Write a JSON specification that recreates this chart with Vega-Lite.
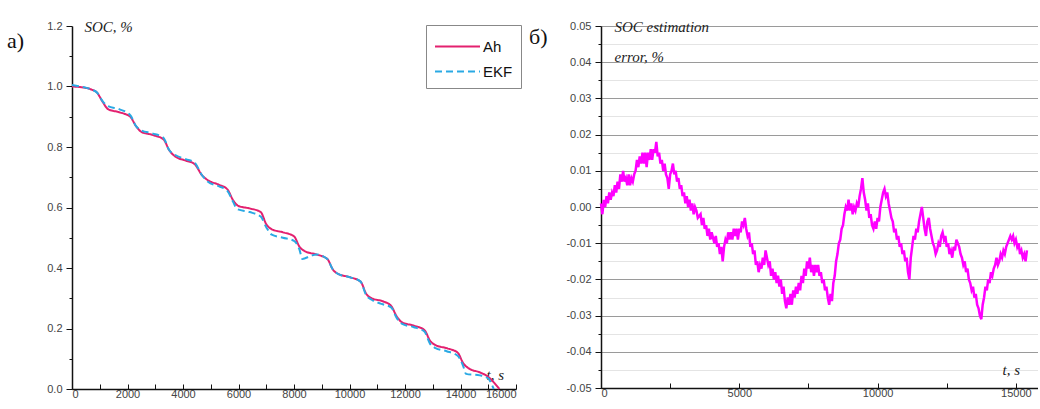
{
  "$schema": "https://vega.github.io/schema/vega-lite/v6.json",
  "background": "white",
  "padding": {"left": 7, "top": 19, "right": 0, "bottom": 0},
  "spacing": 85,
  "bounds": "flush",
  "config": {
    "view": {"stroke": null},
    "locale": {"number": {"decimal": ".", "thousands": "", "grouping": [3], "currency": ["", ""], "minus": "-"}},
    "axis": {
      "labelFont": "Liberation Sans",
      "labelFontSize": 11,
      "labelColor": "#444",
      "domainColor": "#111",
      "domainWidth": 1.5,
      "tickColor": "#111",
      "tickWidth": 1,
      "titleFont": "Liberation Serif",
      "titleFontStyle": "italic",
      "titleFontWeight": "normal",
      "titleFontSize": 15,
      "titleColor": "#222",
      "titleAngle": 0,
      "titleAlign": "left",
      "titleBaseline": "middle"
    },
    "title": {
      "anchor": "start",
      "frame": "group",
      "font": "Liberation Serif",
      "fontSize": 22,
      "fontWeight": "normal",
      "color": "#111",
      "baseline": "middle",
      "offset": 0
    }
  },
  "datasets": {
    "soc": [
      {"t": 0, "soc": 1.0, "method": "Ah"},
      {"t": 300, "soc": 0.998, "method": "Ah"},
      {"t": 700, "soc": 0.99, "method": "Ah"},
      {"t": 900, "soc": 0.98, "method": "Ah"},
      {"t": 1100, "soc": 0.95, "method": "Ah"},
      {"t": 1300, "soc": 0.925, "method": "Ah"},
      {"t": 1700, "soc": 0.915, "method": "Ah"},
      {"t": 2100, "soc": 0.9, "method": "Ah"},
      {"t": 2300, "soc": 0.87, "method": "Ah"},
      {"t": 2500, "soc": 0.85, "method": "Ah"},
      {"t": 2900, "soc": 0.84, "method": "Ah"},
      {"t": 3300, "soc": 0.825, "method": "Ah"},
      {"t": 3500, "soc": 0.79, "method": "Ah"},
      {"t": 3700, "soc": 0.77, "method": "Ah"},
      {"t": 4100, "soc": 0.755, "method": "Ah"},
      {"t": 4400, "soc": 0.745, "method": "Ah"},
      {"t": 4700, "soc": 0.705, "method": "Ah"},
      {"t": 4900, "soc": 0.69, "method": "Ah"},
      {"t": 5300, "soc": 0.675, "method": "Ah"},
      {"t": 5600, "soc": 0.66, "method": "Ah"},
      {"t": 5800, "soc": 0.625, "method": "Ah"},
      {"t": 6000, "soc": 0.605, "method": "Ah"},
      {"t": 6400, "soc": 0.597, "method": "Ah"},
      {"t": 6800, "soc": 0.585, "method": "Ah"},
      {"t": 7000, "soc": 0.545, "method": "Ah"},
      {"t": 7200, "soc": 0.528, "method": "Ah"},
      {"t": 7600, "soc": 0.518, "method": "Ah"},
      {"t": 8000, "soc": 0.505, "method": "Ah"},
      {"t": 8200, "soc": 0.47, "method": "Ah"},
      {"t": 8400, "soc": 0.455, "method": "Ah"},
      {"t": 8800, "soc": 0.445, "method": "Ah"},
      {"t": 9200, "soc": 0.43, "method": "Ah"},
      {"t": 9400, "soc": 0.395, "method": "Ah"},
      {"t": 9600, "soc": 0.38, "method": "Ah"},
      {"t": 10000, "soc": 0.37, "method": "Ah"},
      {"t": 10400, "soc": 0.355, "method": "Ah"},
      {"t": 10600, "soc": 0.315, "method": "Ah"},
      {"t": 10800, "soc": 0.3, "method": "Ah"},
      {"t": 11200, "soc": 0.29, "method": "Ah"},
      {"t": 11500, "soc": 0.275, "method": "Ah"},
      {"t": 11700, "soc": 0.24, "method": "Ah"},
      {"t": 11900, "soc": 0.22, "method": "Ah"},
      {"t": 12300, "soc": 0.21, "method": "Ah"},
      {"t": 12700, "soc": 0.195, "method": "Ah"},
      {"t": 12900, "soc": 0.16, "method": "Ah"},
      {"t": 13100, "soc": 0.145, "method": "Ah"},
      {"t": 13500, "soc": 0.135, "method": "Ah"},
      {"t": 13900, "soc": 0.12, "method": "Ah"},
      {"t": 14100, "soc": 0.085, "method": "Ah"},
      {"t": 14300, "soc": 0.068, "method": "Ah"},
      {"t": 14700, "soc": 0.055, "method": "Ah"},
      {"t": 15000, "soc": 0.04, "method": "Ah"},
      {"t": 15200, "soc": 0.022, "method": "Ah"},
      {"t": 15400, "soc": 0.0, "method": "Ah"},
      {"t": 0, "soc": 1.005, "method": "EKF"},
      {"t": 300, "soc": 1.0, "method": "EKF"},
      {"t": 700, "soc": 0.99, "method": "EKF"},
      {"t": 900, "soc": 0.98, "method": "EKF"},
      {"t": 1100, "soc": 0.952, "method": "EKF"},
      {"t": 1300, "soc": 0.935, "method": "EKF"},
      {"t": 1700, "soc": 0.925, "method": "EKF"},
      {"t": 2100, "soc": 0.905, "method": "EKF"},
      {"t": 2300, "soc": 0.87, "method": "EKF"},
      {"t": 2500, "soc": 0.855, "method": "EKF"},
      {"t": 2900, "soc": 0.845, "method": "EKF"},
      {"t": 3300, "soc": 0.83, "method": "EKF"},
      {"t": 3500, "soc": 0.79, "method": "EKF"},
      {"t": 3700, "soc": 0.775, "method": "EKF"},
      {"t": 4100, "soc": 0.76, "method": "EKF"},
      {"t": 4400, "soc": 0.75, "method": "EKF"},
      {"t": 4700, "soc": 0.705, "method": "EKF"},
      {"t": 4900, "soc": 0.685, "method": "EKF"},
      {"t": 5300, "soc": 0.67, "method": "EKF"},
      {"t": 5600, "soc": 0.655, "method": "EKF"},
      {"t": 5800, "soc": 0.62, "method": "EKF"},
      {"t": 5950, "soc": 0.595, "method": "EKF"},
      {"t": 6400, "soc": 0.585, "method": "EKF"},
      {"t": 6800, "soc": 0.57, "method": "EKF"},
      {"t": 7000, "soc": 0.535, "method": "EKF"},
      {"t": 7200, "soc": 0.51, "method": "EKF"},
      {"t": 7600, "soc": 0.5, "method": "EKF"},
      {"t": 8000, "soc": 0.49, "method": "EKF"},
      {"t": 8200, "soc": 0.46, "method": "EKF"},
      {"t": 8300, "soc": 0.43, "method": "EKF"},
      {"t": 8600, "soc": 0.44, "method": "EKF"},
      {"t": 8800, "soc": 0.445, "method": "EKF"},
      {"t": 9200, "soc": 0.43, "method": "EKF"},
      {"t": 9400, "soc": 0.395, "method": "EKF"},
      {"t": 9600, "soc": 0.38, "method": "EKF"},
      {"t": 10000, "soc": 0.37, "method": "EKF"},
      {"t": 10400, "soc": 0.355, "method": "EKF"},
      {"t": 10600, "soc": 0.31, "method": "EKF"},
      {"t": 10800, "soc": 0.295, "method": "EKF"},
      {"t": 11200, "soc": 0.28, "method": "EKF"},
      {"t": 11500, "soc": 0.27, "method": "EKF"},
      {"t": 11700, "soc": 0.235, "method": "EKF"},
      {"t": 11900, "soc": 0.215, "method": "EKF"},
      {"t": 12300, "soc": 0.205, "method": "EKF"},
      {"t": 12700, "soc": 0.19, "method": "EKF"},
      {"t": 12900, "soc": 0.15, "method": "EKF"},
      {"t": 13100, "soc": 0.135, "method": "EKF"},
      {"t": 13500, "soc": 0.125, "method": "EKF"},
      {"t": 13900, "soc": 0.11, "method": "EKF"},
      {"t": 14100, "soc": 0.075, "method": "EKF"},
      {"t": 14200, "soc": 0.05, "method": "EKF"},
      {"t": 14700, "soc": 0.045, "method": "EKF"},
      {"t": 15000, "soc": 0.035, "method": "EKF"},
      {"t": 15100, "soc": 0.02, "method": "EKF"},
      {"t": 15200, "soc": 0.0, "method": "EKF"}
    ],
    "err": [
      {"t": 0, "e": 0.001}, {"t": 50, "e": -0.002}, {"t": 100, "e": 0.002}, {"t": 150, "e": 0.0},
      {"t": 200, "e": 0.003}, {"t": 250, "e": 0.001}, {"t": 300, "e": 0.004}, {"t": 350, "e": 0.002},
      {"t": 400, "e": 0.004}, {"t": 450, "e": 0.003}, {"t": 500, "e": 0.006}, {"t": 550, "e": 0.004},
      {"t": 600, "e": 0.007}, {"t": 650, "e": 0.005}, {"t": 700, "e": 0.009}, {"t": 750, "e": 0.007},
      {"t": 800, "e": 0.01}, {"t": 850, "e": 0.007}, {"t": 900, "e": 0.008}, {"t": 950, "e": 0.006},
      {"t": 1000, "e": 0.009}, {"t": 1050, "e": 0.006}, {"t": 1100, "e": 0.008}, {"t": 1150, "e": 0.007},
      {"t": 1200, "e": 0.009}, {"t": 1250, "e": 0.01}, {"t": 1300, "e": 0.013}, {"t": 1350, "e": 0.011},
      {"t": 1400, "e": 0.014}, {"t": 1450, "e": 0.012}, {"t": 1500, "e": 0.015}, {"t": 1550, "e": 0.012},
      {"t": 1600, "e": 0.015}, {"t": 1650, "e": 0.011}, {"t": 1700, "e": 0.015}, {"t": 1750, "e": 0.013},
      {"t": 1800, "e": 0.016}, {"t": 1850, "e": 0.013}, {"t": 1900, "e": 0.016}, {"t": 1950, "e": 0.015},
      {"t": 2000, "e": 0.018}, {"t": 2050, "e": 0.014}, {"t": 2100, "e": 0.015}, {"t": 2150, "e": 0.012},
      {"t": 2200, "e": 0.013}, {"t": 2250, "e": 0.01}, {"t": 2300, "e": 0.012}, {"t": 2350, "e": 0.009},
      {"t": 2400, "e": 0.008}, {"t": 2450, "e": 0.005}, {"t": 2500, "e": 0.009}, {"t": 2550, "e": 0.01},
      {"t": 2600, "e": 0.012}, {"t": 2650, "e": 0.009}, {"t": 2700, "e": 0.01}, {"t": 2750, "e": 0.007},
      {"t": 2800, "e": 0.008}, {"t": 2850, "e": 0.005}, {"t": 2900, "e": 0.006}, {"t": 2950, "e": 0.003},
      {"t": 3000, "e": 0.004}, {"t": 3050, "e": 0.001}, {"t": 3100, "e": 0.003}, {"t": 3150, "e": 0.0},
      {"t": 3200, "e": 0.002}, {"t": 3250, "e": -0.001}, {"t": 3300, "e": 0.001}, {"t": 3350, "e": -0.002},
      {"t": 3400, "e": 0.0}, {"t": 3450, "e": -0.001}, {"t": 3500, "e": -0.003}, {"t": 3600, "e": -0.002},
      {"t": 3650, "e": -0.005}, {"t": 3700, "e": -0.003}, {"t": 3750, "e": -0.006}, {"t": 3800, "e": -0.005},
      {"t": 3850, "e": -0.008}, {"t": 3900, "e": -0.006}, {"t": 3950, "e": -0.009}, {"t": 4000, "e": -0.007},
      {"t": 4100, "e": -0.01}, {"t": 4150, "e": -0.008}, {"t": 4200, "e": -0.011}, {"t": 4250, "e": -0.01},
      {"t": 4300, "e": -0.013}, {"t": 4350, "e": -0.011}, {"t": 4400, "e": -0.015}, {"t": 4450, "e": -0.011},
      {"t": 4500, "e": -0.009}, {"t": 4550, "e": -0.01}, {"t": 4600, "e": -0.007}, {"t": 4650, "e": -0.009},
      {"t": 4700, "e": -0.007}, {"t": 4750, "e": -0.009}, {"t": 4800, "e": -0.006}, {"t": 4850, "e": -0.008},
      {"t": 4900, "e": -0.006}, {"t": 4950, "e": -0.009}, {"t": 5000, "e": -0.006}, {"t": 5050, "e": -0.007},
      {"t": 5100, "e": -0.004}, {"t": 5150, "e": -0.005}, {"t": 5200, "e": -0.003}, {"t": 5250, "e": -0.006},
      {"t": 5300, "e": -0.008}, {"t": 5350, "e": -0.007}, {"t": 5400, "e": -0.011}, {"t": 5450, "e": -0.01},
      {"t": 5500, "e": -0.013}, {"t": 5550, "e": -0.012}, {"t": 5600, "e": -0.016}, {"t": 5650, "e": -0.015},
      {"t": 5700, "e": -0.018}, {"t": 5750, "e": -0.016}, {"t": 5800, "e": -0.017}, {"t": 5850, "e": -0.014},
      {"t": 5900, "e": -0.016}, {"t": 5950, "e": -0.012}, {"t": 6000, "e": -0.014}, {"t": 6050, "e": -0.016},
      {"t": 6100, "e": -0.015}, {"t": 6150, "e": -0.019}, {"t": 6200, "e": -0.017}, {"t": 6250, "e": -0.02},
      {"t": 6300, "e": -0.018}, {"t": 6350, "e": -0.021}, {"t": 6400, "e": -0.019}, {"t": 6450, "e": -0.022},
      {"t": 6500, "e": -0.02}, {"t": 6550, "e": -0.024}, {"t": 6600, "e": -0.022}, {"t": 6650, "e": -0.026},
      {"t": 6700, "e": -0.028}, {"t": 6750, "e": -0.025}, {"t": 6800, "e": -0.027}, {"t": 6850, "e": -0.024},
      {"t": 6900, "e": -0.027}, {"t": 6950, "e": -0.023}, {"t": 7000, "e": -0.025}, {"t": 7050, "e": -0.022},
      {"t": 7100, "e": -0.024}, {"t": 7150, "e": -0.021}, {"t": 7200, "e": -0.023}, {"t": 7250, "e": -0.019},
      {"t": 7300, "e": -0.021}, {"t": 7350, "e": -0.017}, {"t": 7400, "e": -0.019}, {"t": 7450, "e": -0.015},
      {"t": 7500, "e": -0.017}, {"t": 7550, "e": -0.014}, {"t": 7600, "e": -0.018}, {"t": 7650, "e": -0.016},
      {"t": 7700, "e": -0.019}, {"t": 7750, "e": -0.016}, {"t": 7800, "e": -0.018}, {"t": 7850, "e": -0.016},
      {"t": 7900, "e": -0.019}, {"t": 7950, "e": -0.018}, {"t": 8000, "e": -0.021}, {"t": 8050, "e": -0.02},
      {"t": 8100, "e": -0.023}, {"t": 8150, "e": -0.022}, {"t": 8200, "e": -0.025}, {"t": 8250, "e": -0.027},
      {"t": 8300, "e": -0.024}, {"t": 8350, "e": -0.026}, {"t": 8400, "e": -0.021}, {"t": 8450, "e": -0.019},
      {"t": 8500, "e": -0.015}, {"t": 8550, "e": -0.013}, {"t": 8600, "e": -0.01}, {"t": 8650, "e": -0.009},
      {"t": 8700, "e": -0.006}, {"t": 8750, "e": -0.005}, {"t": 8800, "e": -0.002}, {"t": 8850, "e": 0.0},
      {"t": 8900, "e": -0.001}, {"t": 8950, "e": 0.002}, {"t": 9000, "e": -0.001}, {"t": 9050, "e": 0.001},
      {"t": 9100, "e": -0.002}, {"t": 9150, "e": 0.0}, {"t": 9200, "e": -0.001}, {"t": 9250, "e": 0.001},
      {"t": 9300, "e": 0.0}, {"t": 9350, "e": 0.003}, {"t": 9400, "e": 0.005}, {"t": 9450, "e": 0.008},
      {"t": 9500, "e": 0.004}, {"t": 9550, "e": 0.002}, {"t": 9600, "e": -0.001}, {"t": 9650, "e": 0.001},
      {"t": 9700, "e": -0.003}, {"t": 9750, "e": -0.002}, {"t": 9800, "e": -0.005}, {"t": 9850, "e": -0.006},
      {"t": 9900, "e": -0.004}, {"t": 9950, "e": -0.006}, {"t": 10000, "e": -0.003}, {"t": 10050, "e": -0.004},
      {"t": 10100, "e": 0.0}, {"t": 10150, "e": 0.002}, {"t": 10200, "e": 0.004}, {"t": 10250, "e": 0.005},
      {"t": 10300, "e": 0.003}, {"t": 10350, "e": 0.004}, {"t": 10400, "e": 0.001}, {"t": 10450, "e": -0.001},
      {"t": 10500, "e": -0.003}, {"t": 10550, "e": -0.004}, {"t": 10600, "e": -0.007}, {"t": 10650, "e": -0.006},
      {"t": 10700, "e": -0.009}, {"t": 10750, "e": -0.008}, {"t": 10800, "e": -0.011}, {"t": 10850, "e": -0.01},
      {"t": 10900, "e": -0.013}, {"t": 10950, "e": -0.012}, {"t": 11000, "e": -0.015}, {"t": 11050, "e": -0.014},
      {"t": 11100, "e": -0.018}, {"t": 11150, "e": -0.02}, {"t": 11200, "e": -0.014}, {"t": 11250, "e": -0.011},
      {"t": 11300, "e": -0.008}, {"t": 11350, "e": -0.009}, {"t": 11400, "e": -0.006}, {"t": 11450, "e": -0.007},
      {"t": 11500, "e": -0.004}, {"t": 11550, "e": -0.002}, {"t": 11600, "e": 0.0}, {"t": 11650, "e": -0.003},
      {"t": 11700, "e": -0.006}, {"t": 11750, "e": -0.008}, {"t": 11800, "e": -0.004}, {"t": 11850, "e": -0.003},
      {"t": 11900, "e": -0.006}, {"t": 11950, "e": -0.008}, {"t": 12000, "e": -0.01}, {"t": 12050, "e": -0.011},
      {"t": 12100, "e": -0.013}, {"t": 12150, "e": -0.012}, {"t": 12200, "e": -0.01}, {"t": 12250, "e": -0.011},
      {"t": 12300, "e": -0.008}, {"t": 12350, "e": -0.007}, {"t": 12400, "e": -0.009}, {"t": 12450, "e": -0.008},
      {"t": 12500, "e": -0.011}, {"t": 12550, "e": -0.01}, {"t": 12600, "e": -0.013}, {"t": 12650, "e": -0.012},
      {"t": 12700, "e": -0.014}, {"t": 12750, "e": -0.011}, {"t": 12800, "e": -0.012}, {"t": 12850, "e": -0.009},
      {"t": 12900, "e": -0.01}, {"t": 12950, "e": -0.011}, {"t": 13000, "e": -0.013}, {"t": 13050, "e": -0.014},
      {"t": 13100, "e": -0.016}, {"t": 13150, "e": -0.015}, {"t": 13200, "e": -0.018}, {"t": 13250, "e": -0.017},
      {"t": 13300, "e": -0.02}, {"t": 13350, "e": -0.021}, {"t": 13400, "e": -0.023}, {"t": 13450, "e": -0.022},
      {"t": 13500, "e": -0.025}, {"t": 13550, "e": -0.024}, {"t": 13600, "e": -0.027}, {"t": 13650, "e": -0.028},
      {"t": 13700, "e": -0.03}, {"t": 13750, "e": -0.031}, {"t": 13800, "e": -0.027}, {"t": 13850, "e": -0.025},
      {"t": 13900, "e": -0.022}, {"t": 13950, "e": -0.023}, {"t": 14000, "e": -0.02}, {"t": 14050, "e": -0.021},
      {"t": 14100, "e": -0.018}, {"t": 14150, "e": -0.019}, {"t": 14200, "e": -0.017}, {"t": 14250, "e": -0.016},
      {"t": 14300, "e": -0.014}, {"t": 14350, "e": -0.016}, {"t": 14400, "e": -0.015}, {"t": 14450, "e": -0.013},
      {"t": 14500, "e": -0.014}, {"t": 14550, "e": -0.012}, {"t": 14600, "e": -0.013}, {"t": 14650, "e": -0.011},
      {"t": 14700, "e": -0.01}, {"t": 14750, "e": -0.009}, {"t": 14800, "e": -0.008}, {"t": 14850, "e": -0.009},
      {"t": 14900, "e": -0.008}, {"t": 14950, "e": -0.01}, {"t": 15000, "e": -0.009}, {"t": 15050, "e": -0.011},
      {"t": 15100, "e": -0.01}, {"t": 15150, "e": -0.013}, {"t": 15200, "e": -0.012}, {"t": 15250, "e": -0.014},
      {"t": 15300, "e": -0.013}, {"t": 15350, "e": -0.015}, {"t": 15400, "e": -0.012}
    ]
  },
  "hconcat": [
    {
      "width": 444,
      "height": 363,
      "title": {"text": "a)", "dx": -65, "dy": 38},
      "data": {"name": "soc"},
      "mark": {"type": "line", "interpolate": "monotone", "strokeWidth": 2},
      "encoding": {
        "x": {
          "field": "t", "type": "quantitative",
          "scale": {"domain": [0, 16000], "nice": false},
          "axis": {
            "values": [0, 1000, 2000, 3000, 4000, 5000, 6000, 7000, 8000, 9000, 10000, 11000, 12000, 13000, 14000, 15000, 16000],
            "format": "d",
            "labelExpr": "datum.value % 2000 === 0 ? datum.label : ''",
            "tickSize": -5,
            "labelPadding": 4,
            "grid": false,
            "title": "t, s",
            "titleX": 414,
            "titleY": -15
          }
        },
        "y": {
          "field": "soc", "type": "quantitative",
          "scale": {"domain": [0, 1.2], "nice": false, "zero": false},
          "axis": {
            "values": [0, 0.1, 0.2, 0.3, 0.4, 0.5, 0.6, 0.7, 0.8, 0.9, 1.0, 1.1, 1.2],
            "format": ".1f",
            "labelExpr": "round(datum.value * 10) % 2 === 0 ? datum.label : ''",
            "tickSize": {"condition": {"test": "round(datum.value * 10) % 2 === 0", "value": 6}, "value": 3},
            "labelPadding": 4,
            "grid": false,
            "title": "SOC, %",
            "titleX": 12,
            "titleY": 0
          }
        },
        "color": {
          "field": "method", "type": "nominal",
          "scale": {"domain": ["Ah", "EKF"], "range": ["#e3216f", "#2aa9e4"]},
          "legend": {
            "title": null, "orient": "none", "legendX": 354, "legendY": -1,
            "symbolType": "M-1,0H2.6", "symbolSize": 625, "symbolStrokeWidth": 2,
            "labelFont": "Liberation Sans", "labelFontSize": 15, "labelColor": "#111",
            "strokeColor": "#888", "fillColor": "white", "padding": 8, "rowPadding": 3, "labelOffset": 22
          }
        },
        "strokeDash": {
          "field": "method", "type": "nominal",
          "scale": {"domain": ["Ah", "EKF"], "range": [[1, 0], [7, 4]]},
          "legend": {
            "title": null, "orient": "none", "legendX": 354, "legendY": -1,
            "symbolType": "M-1,0H2.6", "symbolSize": 625, "symbolStrokeWidth": 2,
            "labelFont": "Liberation Sans", "labelFontSize": 15, "labelColor": "#111",
            "strokeColor": "#888", "fillColor": "white", "padding": 8, "rowPadding": 3, "labelOffset": 22
          }
        }
      }
    },
    {
      "width": 437,
      "height": 362,
      "title": {"text": "б)", "dx": -72, "dy": 34},
      "data": {"name": "err"},
      "mark": {"type": "line", "color": "#ff00ff", "strokeWidth": 2.5},
      "encoding": {
        "x": {
          "field": "t", "type": "quantitative",
          "scale": {"domain": [0, 15800], "nice": false},
          "axis": {
            "values": [0, 2500, 5000, 7500, 10000, 12500, 15000],
            "format": "d",
            "labelExpr": "datum.value % 5000 === 0 ? datum.label : ''",
            "tickSize": -5,
            "labelPadding": 4,
            "grid": false,
            "title": "t, s",
            "titleX": 401,
            "titleY": -19
          }
        },
        "y": {
          "field": "e", "type": "quantitative",
          "scale": {"domain": [-0.05, 0.05], "nice": false, "zero": false},
          "axis": {
            "values": [-0.05, -0.045, -0.04, -0.035, -0.03, -0.025, -0.02, -0.015, -0.01, -0.005, 0, 0.005, 0.01, 0.015, 0.02, 0.025, 0.03, 0.035, 0.04, 0.045, 0.05],
            "format": ".2f",
            "labelExpr": "abs(round(datum.value * 1000)) % 10 === 0 ? datum.label : ''",
            "tickSize": {"condition": {"test": "abs(round(datum.value * 1000)) % 10 === 0", "value": 6}, "value": 3},
            "labelPadding": 4,
            "grid": true,
            "gridColor": {"condition": {"test": "abs(round(datum.value * 1000)) % 10 === 0", "value": "#9a9a9a"}, "value": "#e4e4e4"},
            "gridWidth": 1,
            "title": ["SOC estimation", "error, %"],
            "titleX": 13,
            "titleY": 0,
            "titleLineHeight": 30
          }
        }
      }
    }
  ]
}
